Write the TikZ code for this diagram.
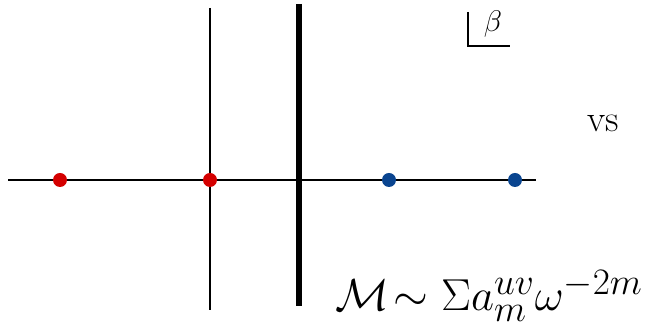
\documentclass[tikz,border=0pt]{standalone}
\usepackage{xcolor}
\definecolor{cRed}{HTML}{D40000}
\definecolor{cBlue}{HTML}{0A4590}
\definecolor{cInk}{HTML}{000000}
\usepackage{tikz}
\usetikzlibrary{positioning,calc}
\tikzset{
  axis-line/.style={draw=cInk,line width=1.5pt},
  cut-line/.style={draw=cInk,line width=5.5pt},
  pole-red/.style={circle,fill=cRed,inner sep=0pt,minimum size=14pt},
  pole-blue/.style={circle,fill=cBlue,inner sep=0pt,minimum size=14pt},
  hand-text/.style={font=\Huge,inner sep=0pt,text=cInk},
}
\begin{document}
\begin{tikzpicture}[x=1pt,y=1pt]
  \useasboundingbox (0,0) rectangle (649,331);
  % axis ends and cuts
  \coordinate (axl) at (8,151);
  \coordinate (axr) at (536,151);
  \coordinate (vtop) at (210,323);
  \coordinate (vbot) at (210,21);
  \coordinate (ctop) at (299,327);
  \coordinate (cbot) at (299,25);
  \draw[axis-line] (axl) -- (axr);
  \draw[axis-line] (vtop) -- (vbot);
  \draw[cut-line] (ctop) -- (cbot);
  % poles
  \node[pole-red]  (p1) at (60,151)  {};
  \node[pole-red]  (p2) at (210,151) {};
  \node[pole-blue] (p3) at (389,151) {};
  \node[pole-blue] (p4) at (515,151) {};
  % corner label
  \node[hand-text,scale=1.2] (beta) at (493,307) {$\beta$};
  \coordinate (ktop) at (468,319);
  \coordinate (kmid) at (468,285);
  \coordinate (kend) at (510,285);
  \draw[axis-line] (ktop) -- (kmid) -- (kend);
  \node[hand-text,scale=1.5] (vs) at (603,208) {vs};
  \node[hand-text,scale=1.8] (formula) at (489,35)
    {$\mathcal{M}\!\sim\Sigma a^{uv}_m\omega^{-2m}$};
\end{tikzpicture}
\end{document}
